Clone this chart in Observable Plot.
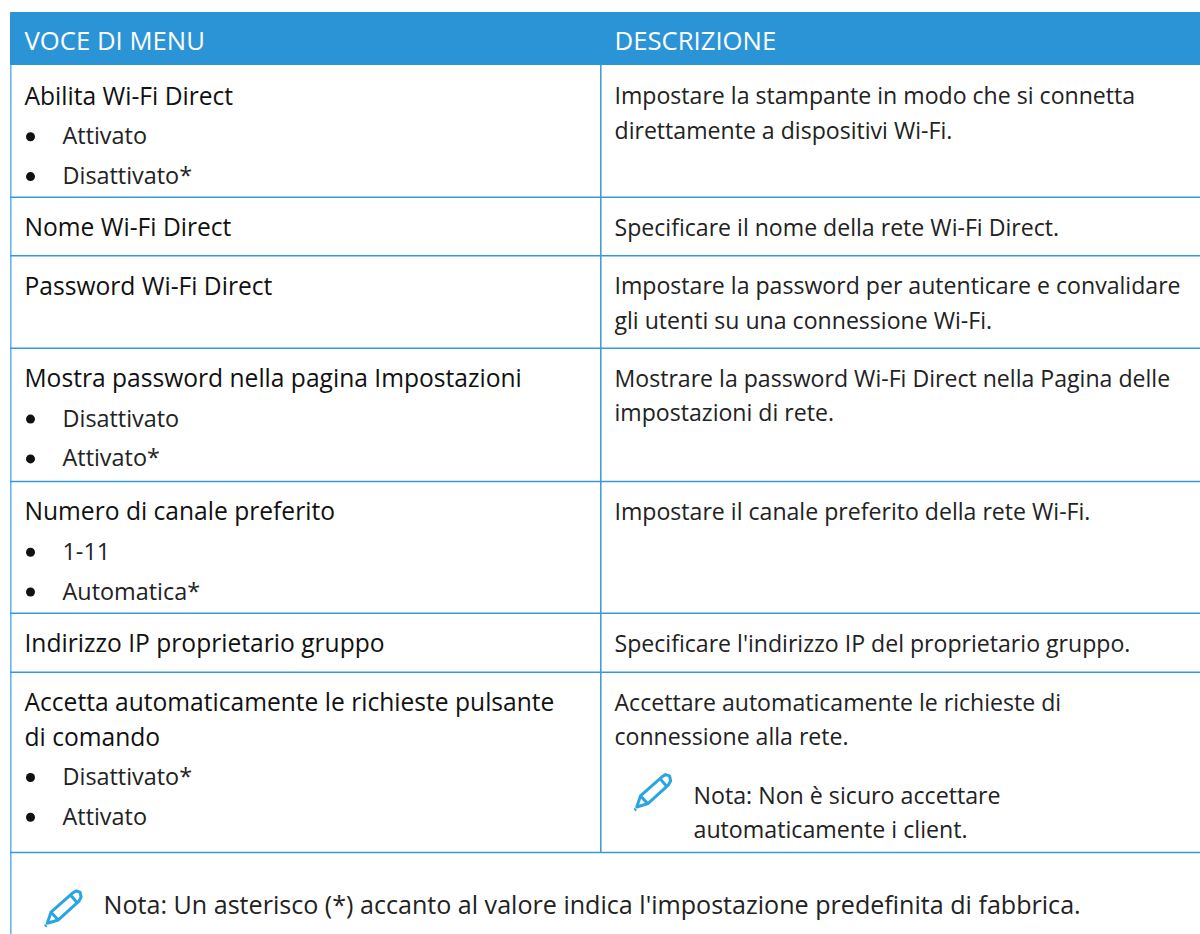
<!DOCTYPE html>
<html><head><meta charset="utf-8">
<script src="https://cdn.jsdelivr.net/npm/d3@7"></script>
<script src="https://cdn.jsdelivr.net/npm/@observablehq/plot@0.6"></script>
<style>html,body{margin:0;padding:0;background:#fff}svg{display:block}</style>
</head><body><div id="c"></div>
<script>
const columnHeads = ["VOCE DI MENU", "DESCRIZIONE"];
const menuTitles = [
  ["Abilita Wi-Fi Direct"],
  ["Nome Wi-Fi Direct"],
  ["Password Wi-Fi Direct"],
  ["Mostra password nella pagina Impostazioni"],
  ["Numero di canale preferito"],
  ["Indirizzo IP proprietario gruppo"],
  ["Accetta automaticamente le richieste pulsante", "di comando"]
];
const menuOptions = [
  ["Attivato", "Disattivato*"],
  [],
  [],
  ["Disattivato", "Attivato*"],
  ["1-11", "Automatica*"],
  [],
  ["Disattivato*", "Attivato"]
];
const descriptions = [
  ["Impostare la stampante in modo che si connetta", "direttamente a dispositivi Wi-Fi."],
  ["Specificare il nome della rete Wi-Fi Direct."],
  ["Impostare la password per autenticare e convalidare", "gli utenti su una connessione Wi-Fi."],
  ["Mostrare la password Wi-Fi Direct nella Pagina delle", "impostazioni di rete."],
  ["Impostare il canale preferito della rete Wi-Fi."],
  ["Specificare l'indirizzo IP del proprietario gruppo."],
  ["Accettare automaticamente le richieste di", "connessione alla rete."]
];
const rowNotes = [[],[],[],[],[],[],["Nota: Non è sicuro accettare", "automaticamente i client."]];
const footNote = ["Nota: Un asterisco (*) accanto al valore indica l'impostazione predefinita di fabbrica."];

// layout
const W = 1200, H = 934;
const rowTops = [65.5, 196.7, 255.2, 347.8, 480.9, 612.7, 671.7, 852];
const L = 10, M = 600, F = "'Open Sans','Noto Sans',sans-serif";
const blue = "#2b94d6", edge = "#5fb2e6", rule = "#3a98d8", ink = "#222";
const left = [], right = [], bold = [], dots = [], notes = [], pencils = [];
const pad = 31, wrap = 34.5, optStep = 39.8;
menuTitles.forEach((t, i) => {
  const top = rowTops[i];
  t.forEach((s, j) => bold.push({x: 24, y: top + pad + j * wrap, s}));
  menuOptions[i].forEach((s, j) => {
    const y = top + pad + (t.length - 1) * wrap + (j + 1) * optStep;
    left.push({x: 62, y, s});
    dots.push({x: 30, y});
  });
  descriptions[i].forEach((s, j) => right.push({x: 614, y: top + pad + j * wrap, s}));
  rowNotes[i].forEach((s, j) => notes.push({x: 693, y: top + 124 + j * wrap, s}));
  if (rowNotes[i].length) pencils.push({x: 652, y: top + 120});
});
pencils.push({x: 62.5, y: 908});
const pencilSymbol = {
  draw(c, size) {
    const r = Math.sqrt(size / Math.PI);
    const P = (a, b) => [a * r, b * r];
    const path = (pts) => pts.forEach((p, i) => i ? c.lineTo(...P(...p)) : c.moveTo(...P(...p)));
    path([[-0.85, 0.8], [-0.65, 0.2], [0.5, -0.82], [0.7, -0.95], [0.92, -0.88], [0.98, -0.62], [0.85, -0.38], [-0.25, 0.62]]);
    c.closePath();
    path([[-0.65, 0.2], [-0.25, 0.62]]);
    path([[0.42, -0.72], [0.78, -0.3]]);
    path([[-0.97, 0.97], [-0.9, 0.9]]);
  }
};

const chart = Plot.plot({
  width: W, height: H, margin: 0,
  x: {domain: [0, W], range: [0, W], axis: null},
  y: {domain: [0, H], range: [0, H], axis: null},
  style: {background: "#fff", fontFamily: F},
  marks: [
    Plot.ruleX([L + .3], {y1: 64, y2: H, stroke: edge, strokeWidth: 1.5}),
    Plot.ruleX([M + .3], {y1: 12, y2: rowTops[7], stroke: rule, strokeWidth: 1.5}),
    Plot.ruleY(rowTops.slice(1), {x1: L, x2: W, stroke: rule, strokeWidth: 1.5}),
    Plot.rect([{}], {x1: L, x2: W, y1: 12, y2: 65, fill: blue}),
    Plot.text(columnHeads, {x: (d, i) => [24, 614][i], y: 41.5, text: d => d, fill: "#fff", fontSize: 25.7, textAnchor: "start"}),
    Plot.text(bold, {x: "x", y: "y", text: "s", fill: "#111", fontSize: 24.6, fontWeight: 500, textAnchor: "start"}),
    Plot.text(left, {x: "x", y: "y", text: "s", fill: ink, fontSize: 23.4, textAnchor: "start"}),
    Plot.text(right, {x: "x", y: "y", text: "s", fill: ink, fontSize: 23.1, textAnchor: "start"}),
    Plot.text(notes, {x: "x", y: "y", text: "s", fill: ink, fontSize: 23.2, textAnchor: "start"}),
    Plot.dot(dots, {x: "x", y: "y", r: 4.5, fill: "#111"}),
    Plot.text(footNote, {x: 103, y: 905, text: d => d, fill: ink, fontSize: 25.1, textAnchor: "start"}),
    Plot.dot(pencils, {x: "x", y: "y", r: 18.5, symbol: pencilSymbol, fill: "none", stroke: "#29a5df", strokeWidth: 3, strokeLinejoin: "round"})
  ]
});
document.getElementById("c").append(chart);
</script></body></html>
